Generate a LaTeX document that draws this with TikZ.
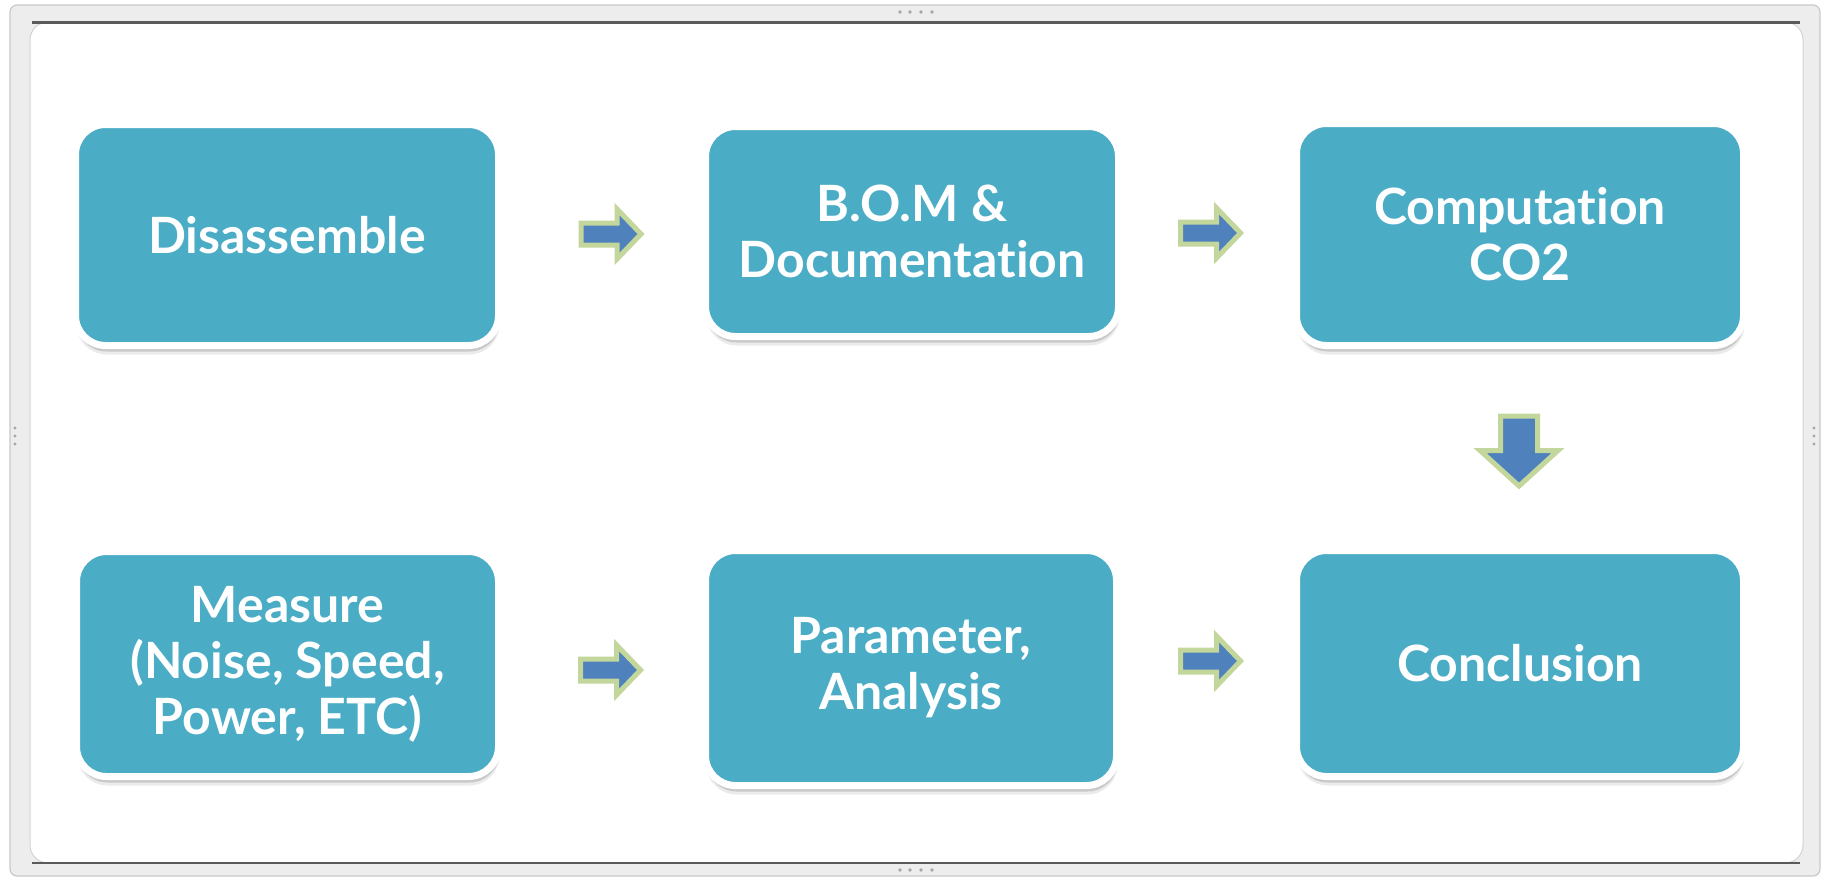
\documentclass[tikz,border=0pt]{standalone}
\usepackage{fontspec}
\newfontfamily\boxfont{Lato}[Ligatures=NoCommon]
\usetikzlibrary{shadows,calc}
\definecolor{boxteal}{HTML}{4BACC6}
\definecolor{arrowblue}{HTML}{4F81BD}
\definecolor{arrowgreen}{HTML}{C3D69B}
\definecolor{framegray}{HTML}{EDEDED}
\definecolor{frameedge}{HTML}{C9C9C9}
\definecolor{framedark}{HTML}{5A5A5A}
\begin{document}
\begin{tikzpicture}[x=1pt,y=-1pt,
  stepbox/.style={draw=white, line width=7pt, fill=boxteal, rounded corners=30pt,
    text=white, font=\boxfont\bfseries\fontsize{50pt}{56pt}\selectfont, align=center, inner sep=0pt,
    drop shadow={shadow xshift=0pt, shadow yshift=0pt, shadow scale=1.012, opacity=0.07, fill=black},
    drop shadow={shadow xshift=1pt, shadow yshift=-3pt, opacity=0.18, fill=black},
    drop shadow={shadow xshift=1pt, shadow yshift=-6pt, opacity=0.14, fill=black},
    drop shadow={shadow xshift=1pt, shadow yshift=-9pt, opacity=0.08, fill=black}},
  blockarrow/.style={fill=arrowblue, draw=arrowgreen, line width=5pt, line join=miter},
  handledot/.style={fill=gray!70, draw=none},
  rarrow/.pic={\draw[blockarrow] (-31,-11) -- (5,-11) -- (5,-25) -- (29,0) -- (5,25) -- (5,11) -- (-31,11) -- cycle;},
  darrow/.pic={\draw[blockarrow] (-18.5,-35.5) -- (18.5,-35.5) -- (18.5,-1) -- (39,-1) -- (0,34.5) -- (-39,-1) -- (-18.5,-1) -- cycle;}
]
\useasboundingbox (0,0) rectangle (1827,878);
% frame
\draw[draw=frameedge, fill=framegray, line width=1.2pt, rounded corners=7pt] (10,5) rectangle (1820,876);
\draw[draw=frameedge!80, fill=white, line width=1pt, rounded corners=18pt] (30,22) rectangle (1803,863);
\draw[framedark, line width=2.5pt] (32,22.5) -- (1800,22.5);
\draw[framedark, line width=2.5pt] (32,863) -- (1800,863);
% handles
\foreach \xx in {900,910,921,932} {\fill[handledot] (\xx,12) circle (1.8pt); \fill[handledot] (\xx,870) circle (1.8pt);}
\foreach \yy in {428,436,444} {\fill[handledot] (15,\yy) circle (1.6pt); \fill[handledot] (1814,\yy) circle (1.6pt);}
% boxes
\node[stepbox, minimum width=423pt, minimum height=221pt] (b1) at (287,235) {Disassemble};
\node[stepbox, minimum width=413pt, minimum height=210pt] (b2) at (912,231.5) {B.O.M \&\\Documentation};
\node[stepbox, minimum width=447pt, minimum height=222pt] (b3) at (1520,234.5) {Computation\\CO2};
\node[stepbox, minimum width=422pt, minimum height=225pt] (b4) at (287.5,664) {Measure\\(Noise, Speed,\\Power, ETC)};
\node[stepbox, minimum width=411pt, minimum height=235pt] (b5) at (911,668) {Parameter,\\Analysis};
\node[stepbox, minimum width=447pt, minimum height=226pt] (b6) at (1520,663.5) {Conclusion};
% block arrows
\pic at (612,234) {rarrow};
\pic at (1211.5,233) {rarrow};
\pic at (1519,451.5) {darrow};
\pic at (611.5,670) {rarrow};
\pic at (1211.5,661) {rarrow};
\end{tikzpicture}
\end{document}
